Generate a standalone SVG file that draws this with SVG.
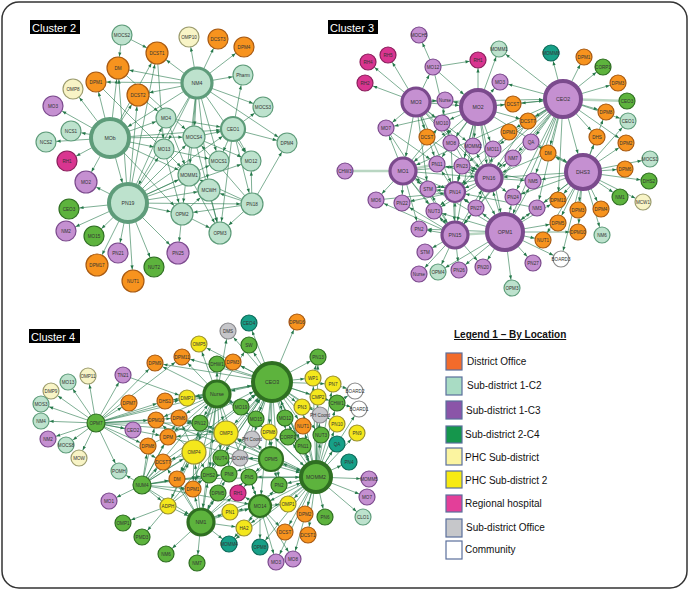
<svg xmlns="http://www.w3.org/2000/svg" width="689" height="598" viewBox="0 0 689 598">
<style>
text{font-family:"Liberation Sans",Arial,sans-serif;}
.nodes text{font-size:4.6px;text-anchor:middle;fill:#333;}
.nodes circle{stroke-width:1.2;}
.or circle{fill:#f7931e;stroke:#a85a12;}
.mi circle{fill:#bde2cd;stroke:#5e9c7a;}
.pu circle{fill:#c590d1;stroke:#7b4a8d;}
.gr circle{fill:#5db33d;stroke:#2f6f22;}
.py circle{fill:#f8f4c6;stroke:#9c9c6e;}
.ye circle{fill:#f4e71c;stroke:#9a9030;}
.mg circle{fill:#d93590;stroke:#8a1f5c;}
.te circle{fill:#17a088;stroke:#0c6a58;}
.gy circle{fill:#c6c6ca;stroke:#8a8a8e;}
.wh circle{fill:#ffffff;stroke:#8a8a8a;}
.nodes .b2 circle{stroke-width:2.2;}
.nodes .b3 circle{stroke-width:3.2;}
.nodes .b4 circle{stroke-width:4;}
.nodes .b3 text,.nodes .b4 text{font-size:5.2px;}
.edges line{stroke:#25784a;stroke-width:0.7;stroke-opacity:0.85;}
.edges line.thick{stroke:#b9d6c2;stroke-width:2.6;stroke-opacity:1;}
.e8{marker-end:url(#m8);} .e10{marker-end:url(#m10);} .e11{marker-end:url(#m11);}
.e12{marker-end:url(#m12);} .e13{marker-end:url(#m13);} .e14{marker-end:url(#m14);}
.e15{marker-end:url(#m15);} .e17{marker-end:url(#m17);} .e18{marker-end:url(#m18);}
.e19{marker-end:url(#m19);} .e9{marker-end:url(#m9);}
.clab rect{fill:#000;} .clab text{fill:#fff;font-size:11px;}
.legend text{font-size:10px;fill:#111;}
.legend rect{stroke:#5b6f9c;stroke-width:1.2;}
</style>
<defs>
<marker id="m8" markerUnits="userSpaceOnUse" markerWidth="4" markerHeight="4" refX="12.6" refY="1.6" orient="auto" overflow="visible"><path d="M0,0L4,1.6L0,3.2z" fill="#25784a"/></marker>
<marker id="m9" markerUnits="userSpaceOnUse" markerWidth="4" markerHeight="4" refX="13.6" refY="1.6" orient="auto" overflow="visible"><path d="M0,0L4,1.6L0,3.2z" fill="#25784a"/></marker>
<marker id="m10" markerUnits="userSpaceOnUse" markerWidth="4" markerHeight="4" refX="14.6" refY="1.6" orient="auto" overflow="visible"><path d="M0,0L4,1.6L0,3.2z" fill="#25784a"/></marker>
<marker id="m11" markerUnits="userSpaceOnUse" markerWidth="4" markerHeight="4" refX="15.6" refY="1.6" orient="auto" overflow="visible"><path d="M0,0L4,1.6L0,3.2z" fill="#25784a"/></marker>
<marker id="m12" markerUnits="userSpaceOnUse" markerWidth="4" markerHeight="4" refX="16.8" refY="1.6" orient="auto" overflow="visible"><path d="M0,0L4,1.6L0,3.2z" fill="#25784a"/></marker>
<marker id="m13" markerUnits="userSpaceOnUse" markerWidth="4" markerHeight="4" refX="18.4" refY="1.6" orient="auto" overflow="visible"><path d="M0,0L4,1.6L0,3.2z" fill="#25784a"/></marker>
<marker id="m14" markerUnits="userSpaceOnUse" markerWidth="4" markerHeight="4" refX="19.6" refY="1.6" orient="auto" overflow="visible"><path d="M0,0L4,1.6L0,3.2z" fill="#25784a"/></marker>
<marker id="m15" markerUnits="userSpaceOnUse" markerWidth="4" markerHeight="4" refX="20.6" refY="1.6" orient="auto" overflow="visible"><path d="M0,0L4,1.6L0,3.2z" fill="#25784a"/></marker>
<marker id="m17" markerUnits="userSpaceOnUse" markerWidth="4" markerHeight="4" refX="23" refY="1.6" orient="auto" overflow="visible"><path d="M0,0L4,1.6L0,3.2z" fill="#25784a"/></marker>
<marker id="m18" markerUnits="userSpaceOnUse" markerWidth="4" markerHeight="4" refX="24" refY="1.6" orient="auto" overflow="visible"><path d="M0,0L4,1.6L0,3.2z" fill="#25784a"/></marker>
<marker id="m19" markerUnits="userSpaceOnUse" markerWidth="4" markerHeight="4" refX="25" refY="1.6" orient="auto" overflow="visible"><path d="M0,0L4,1.6L0,3.2z" fill="#25784a"/></marker>
</defs>
<rect x="0" y="0" width="689" height="598" fill="#fff"/>
<rect x="2" y="2" width="685" height="586" rx="17" fill="none" stroke="#333" stroke-width="1.5"/>

<g class="clab" id="label-c2"><rect x="30" y="20" width="50" height="14"/><text x="32" y="31.5">Cluster 2</text></g>
<g class="clab" id="label-c3"><rect x="328" y="20" width="50" height="14"/><text x="330" y="31.5">Cluster 3</text></g>
<g class="clab" id="label-c4"><rect x="29" y="329" width="51" height="14"/><text x="31" y="340.5">Cluster 4</text></g>

<g id="connectors" class="edges">
<!-- cluster 2 -->
<line x1="122" y1="35" x2="157" y2="53" class="e11"/><line x1="122" y1="35" x2="118" y2="68" class="e11"/>
<line x1="197" y1="83" x2="118" y2="68" class="e11"/><line x1="197" y1="83" x2="96" y2="82" class="e10"/>
<line x1="197" y1="83" x2="157" y2="53" class="e11"/><line x1="197" y1="83" x2="189" y2="37" class="e10"/>
<line x1="197" y1="83" x2="218" y2="39" class="e10"/><line x1="197" y1="83" x2="244" y2="47" class="e10"/>
<line x1="197" y1="83" x2="243" y2="75" class="e10"/><line x1="197" y1="83" x2="263" y2="107" class="e10"/>
<line x1="197" y1="83" x2="138" y2="95" class="e11"/><line x1="197" y1="83" x2="110" y2="138" class="e19"/>
<line x1="197" y1="83" x2="194" y2="137" class="e11"/><line x1="197" y1="83" x2="219" y2="161" class="e10"/>
<line x1="197" y1="83" x2="251" y2="161" class="e10"/><line x1="197" y1="83" x2="189" y2="175" class="e11"/>
<line x1="197" y1="83" x2="209" y2="190" class="e11"/><line x1="197" y1="83" x2="182" y2="214" class="e11"/>
<line x1="197" y1="83" x2="128" y2="203" class="e19"/><line x1="197" y1="83" x2="287" y2="143" class="e10"/>
<line x1="197" y1="83" x2="164" y2="149" class="e10"/>
<line x1="110" y1="138" x2="71" y2="131" class="e10"/><line x1="110" y1="138" x2="46" y2="142" class="e10"/>
<line x1="110" y1="138" x2="53" y2="106" class="e10"/><line x1="110" y1="138" x2="73" y2="89" class="e10"/>
<line x1="110" y1="138" x2="96" y2="82" class="e10"/><line x1="110" y1="138" x2="118" y2="68" class="e11"/>
<line x1="110" y1="138" x2="138" y2="95" class="e11"/><line x1="110" y1="138" x2="157" y2="53" class="e11"/>
<line x1="110" y1="138" x2="67" y2="161" class="e10"/><line x1="110" y1="138" x2="86" y2="182" class="e11"/>
<line x1="110" y1="138" x2="128" y2="203" class="e19"/><line x1="110" y1="138" x2="166" y2="118" class="e10"/>
<line x1="110" y1="138" x2="194" y2="137" class="e11"/><line x1="110" y1="138" x2="164" y2="149" class="e10"/>
<line x1="110" y1="138" x2="233" y2="129" class="e12"/><line x1="110" y1="138" x2="189" y2="175" class="e11"/>
<line x1="110" y1="138" x2="182" y2="214" class="e11"/>
<line x1="128" y1="203" x2="69" y2="209" class="e10"/><line x1="128" y1="203" x2="66" y2="231" class="e10"/>
<line x1="128" y1="203" x2="94" y2="236" class="e10"/><line x1="128" y1="203" x2="97" y2="265" class="e11"/>
<line x1="128" y1="203" x2="118" y2="253" class="e10"/><line x1="128" y1="203" x2="133" y2="281" class="e11"/>
<line x1="128" y1="203" x2="154" y2="267" class="e10"/><line x1="128" y1="203" x2="178" y2="253" class="e11"/>
<line x1="128" y1="203" x2="86" y2="182" class="e11"/><line x1="128" y1="203" x2="182" y2="214" class="e11"/>
<line x1="128" y1="203" x2="252" y2="204" class="e11"/><line x1="128" y1="203" x2="189" y2="175" class="e11"/>
<line x1="128" y1="203" x2="209" y2="190" class="e11"/><line x1="128" y1="203" x2="219" y2="161" class="e10"/>
<line x1="128" y1="203" x2="251" y2="161" class="e10"/><line x1="128" y1="203" x2="233" y2="129" class="e12"/>
<line x1="128" y1="203" x2="166" y2="118" class="e10"/><line x1="128" y1="203" x2="164" y2="149" class="e10"/>
<line x1="128" y1="203" x2="194" y2="137" class="e11"/><line x1="128" y1="203" x2="138" y2="95" class="e11"/>
<line x1="128" y1="203" x2="157" y2="53" class="e11"/><line x1="128" y1="203" x2="118" y2="68" class="e11"/>
<line x1="233" y1="129" x2="243" y2="75" class="e10"/><line x1="233" y1="129" x2="263" y2="107" class="e10"/>
<line x1="233" y1="129" x2="287" y2="143" class="e10"/><line x1="233" y1="129" x2="251" y2="161" class="e10"/>
<line x1="233" y1="129" x2="219" y2="161" class="e10"/><line x1="233" y1="129" x2="252" y2="204" class="e11"/>
<line x1="233" y1="129" x2="220" y2="233" class="e11"/>
<line x1="252" y1="204" x2="251" y2="161" class="e10"/><line x1="252" y1="204" x2="287" y2="143" class="e10"/>
<line x1="252" y1="204" x2="220" y2="233" class="e11"/><line x1="252" y1="204" x2="209" y2="190" class="e11"/>
<line x1="252" y1="204" x2="182" y2="214" class="e11"/><line x1="252" y1="204" x2="189" y2="175" class="e11"/>
<line x1="252" y1="204" x2="194" y2="137" class="e11"/>
<line x1="182" y1="214" x2="178" y2="253" class="e11"/><line x1="182" y1="214" x2="220" y2="233" class="e11"/>
<line x1="182" y1="214" x2="209" y2="190" class="e11"/><line x1="194" y1="137" x2="233" y2="129" class="e12"/>
<line x1="194" y1="137" x2="251" y2="161" class="e10"/><line x1="166" y1="118" x2="233" y2="129" class="e12"/>
<line x1="164" y1="149" x2="219" y2="161" class="e10"/><line x1="189" y1="175" x2="220" y2="233" class="e11"/>
<line x1="138" y1="95" x2="166" y2="118" class="e10"/><line x1="194" y1="137" x2="220" y2="233" class="e11"/>
<line x1="166" y1="118" x2="189" y2="175" class="e11"/><line x1="209" y1="190" x2="220" y2="233" class="e11"/>
<line x1="164" y1="149" x2="182" y2="214" class="e11"/><line x1="157" y1="53" x2="164" y2="149" class="e10"/>
<line x1="118" y1="68" x2="194" y2="137" class="e11"/><line x1="96" y1="82" x2="189" y2="175" class="e11"/>
<!-- cluster 3 -->
<line x1="403" y1="171" x2="345" y2="171" class="thick"/><line x1="403" y1="171" x2="437" y2="164" class="thick"/>
<line x1="455" y1="235" x2="505" y2="232" class="thick"/><line x1="563" y1="99" x2="627" y2="101" class="thick"/>
<line x1="416" y1="102" x2="368" y2="62" class="e8"/><line x1="416" y1="102" x2="388" y2="55" class="e8"/>
<line x1="416" y1="102" x2="365" y2="83" class="e8"/><line x1="416" y1="102" x2="386" y2="128" class="e8"/>
<line x1="416" y1="102" x2="433" y2="67" class="e8"/><line x1="416" y1="102" x2="445" y2="100" class="e8"/>
<line x1="416" y1="102" x2="442" y2="123" class="e8"/><line x1="416" y1="102" x2="427" y2="137" class="e8"/>
<line x1="416" y1="102" x2="403" y2="171" class="e13"/><line x1="416" y1="102" x2="478" y2="107" class="e17"/>
<line x1="416" y1="102" x2="451" y2="143" class="e8"/><line x1="416" y1="102" x2="437" y2="164" class="e8"/>
<line x1="416" y1="102" x2="455" y2="192" class="e10"/><line x1="416" y1="102" x2="489" y2="178" class="e13"/>
<line x1="416" y1="102" x2="563" y2="99" class="e18"/><line x1="416" y1="102" x2="473" y2="146" class="e8"/>
<line x1="416" y1="102" x2="428" y2="189" class="e8"/>
<line x1="433" y1="67" x2="419" y2="35" class="e8"/><line x1="433" y1="67" x2="478" y2="60" class="e8"/>
<line x1="433" y1="67" x2="478" y2="107" class="e17"/><line x1="433" y1="67" x2="451" y2="143" class="e8"/>
<line x1="478" y1="107" x2="478" y2="60" class="e8"/><line x1="478" y1="107" x2="499" y2="49" class="e8"/>
<line x1="478" y1="107" x2="500" y2="82" class="e8"/><line x1="478" y1="107" x2="513" y2="104" class="e8"/>
<line x1="478" y1="107" x2="445" y2="100" class="e8"/><line x1="478" y1="107" x2="442" y2="123" class="e8"/>
<line x1="478" y1="107" x2="451" y2="143" class="e8"/><line x1="478" y1="107" x2="473" y2="146" class="e8"/>
<line x1="478" y1="107" x2="493" y2="149" class="e8"/><line x1="478" y1="107" x2="489" y2="178" class="e13"/>
<line x1="478" y1="107" x2="455" y2="192" class="e10"/><line x1="478" y1="107" x2="462" y2="166" class="e8"/>
<line x1="478" y1="107" x2="505" y2="232" class="e18"/><line x1="478" y1="107" x2="563" y2="99" class="e18"/>
<line x1="478" y1="107" x2="583" y2="172" class="e17"/><line x1="478" y1="107" x2="403" y2="171" class="e13"/>
<line x1="478" y1="107" x2="455" y2="235" class="e13"/><line x1="478" y1="107" x2="386" y2="128" class="e8"/>
<line x1="478" y1="107" x2="528" y2="121" class="e8"/><line x1="478" y1="107" x2="437" y2="164" class="e8"/>
<line x1="563" y1="99" x2="551" y2="53" class="e8"/><line x1="563" y1="99" x2="584" y2="57" class="e8"/>
<line x1="563" y1="99" x2="603" y2="67" class="e8"/><line x1="563" y1="99" x2="618" y2="83" class="e8"/>
<line x1="563" y1="99" x2="606" y2="112" class="e8"/><line x1="563" y1="99" x2="628" y2="121" class="e8"/>
<line x1="563" y1="99" x2="597" y2="137" class="e8"/><line x1="563" y1="99" x2="626" y2="143" class="e8"/>
<line x1="563" y1="99" x2="500" y2="82" class="e8"/><line x1="563" y1="99" x2="513" y2="104" class="e8"/>
<line x1="563" y1="99" x2="528" y2="121" class="e8"/><line x1="563" y1="99" x2="509" y2="132" class="e8"/>
<line x1="563" y1="99" x2="531" y2="142" class="e8"/><line x1="563" y1="99" x2="548" y2="153" class="e8"/>
<line x1="563" y1="99" x2="583" y2="172" class="e17"/><line x1="563" y1="99" x2="505" y2="232" class="e18"/>
<line x1="563" y1="99" x2="489" y2="178" class="e13"/><line x1="563" y1="99" x2="499" y2="49" class="e8"/>
<line x1="563" y1="99" x2="493" y2="149" class="e8"/><line x1="563" y1="99" x2="513" y2="158" class="e8"/>
<line x1="563" y1="99" x2="533" y2="181" class="e8"/><line x1="563" y1="99" x2="455" y2="192" class="e10"/>
<line x1="563" y1="99" x2="455" y2="235" class="e13"/><line x1="563" y1="99" x2="558" y2="200" class="e8"/>
<line x1="563" y1="99" x2="537" y2="208" class="e8"/><line x1="563" y1="99" x2="403" y2="171" class="e13"/>
<line x1="563" y1="99" x2="462" y2="166" class="e8"/><line x1="563" y1="99" x2="513" y2="197" class="e8"/>
<line x1="583" y1="172" x2="650" y2="159" class="e8"/><line x1="583" y1="172" x2="625" y2="169" class="e8"/>
<line x1="583" y1="172" x2="649" y2="181" class="e8"/><line x1="583" y1="172" x2="620" y2="197" class="e8"/>
<line x1="583" y1="172" x2="643" y2="202" class="e8"/><line x1="583" y1="172" x2="601" y2="209" class="e8"/>
<line x1="583" y1="172" x2="578" y2="210" class="e8"/><line x1="583" y1="172" x2="558" y2="200" class="e8"/>
<line x1="583" y1="172" x2="548" y2="153" class="e8"/><line x1="583" y1="172" x2="533" y2="181" class="e8"/>
<line x1="583" y1="172" x2="558" y2="223" class="e8"/><line x1="583" y1="172" x2="578" y2="232" class="e8"/>
<line x1="583" y1="172" x2="602" y2="235" class="e8"/><line x1="583" y1="172" x2="597" y2="137" class="e8"/>
<line x1="583" y1="172" x2="626" y2="143" class="e8"/><line x1="583" y1="172" x2="505" y2="232" class="e18"/>
<line x1="583" y1="172" x2="489" y2="178" class="e13"/><line x1="583" y1="172" x2="513" y2="197" class="e8"/>
<line x1="583" y1="172" x2="537" y2="208" class="e8"/><line x1="583" y1="172" x2="543" y2="240" class="e8"/>
<line x1="583" y1="172" x2="531" y2="142" class="e8"/><line x1="583" y1="172" x2="606" y2="112" class="e8"/>
<line x1="583" y1="172" x2="628" y2="121" class="e8"/><line x1="583" y1="172" x2="561" y2="259" class="e8"/>
<line x1="505" y1="232" x2="543" y2="240" class="e8"/><line x1="505" y1="232" x2="561" y2="259" class="e8"/>
<line x1="505" y1="232" x2="533" y2="263" class="e8"/><line x1="505" y1="232" x2="512" y2="288" class="e8"/>
<line x1="505" y1="232" x2="483" y2="267" class="e8"/><line x1="505" y1="232" x2="459" y2="270" class="e8"/>
<line x1="505" y1="232" x2="558" y2="223" class="e8"/><line x1="505" y1="232" x2="578" y2="232" class="e8"/>
<line x1="505" y1="232" x2="537" y2="208" class="e8"/><line x1="505" y1="232" x2="513" y2="197" class="e8"/>
<line x1="505" y1="232" x2="489" y2="178" class="e13"/><line x1="505" y1="232" x2="455" y2="192" class="e10"/>
<line x1="505" y1="232" x2="476" y2="208" class="e8"/><line x1="505" y1="232" x2="533" y2="181" class="e8"/>
<line x1="505" y1="232" x2="558" y2="200" class="e8"/><line x1="505" y1="232" x2="403" y2="171" class="e13"/>
<line x1="505" y1="232" x2="434" y2="211" class="e8"/><line x1="505" y1="232" x2="419" y2="229" class="e8"/>
<line x1="505" y1="232" x2="438" y2="272" class="e8"/>
<line x1="403" y1="171" x2="376" y2="200" class="e8"/><line x1="403" y1="171" x2="402" y2="203" class="e8"/>
<line x1="403" y1="171" x2="428" y2="189" class="e8"/><line x1="403" y1="171" x2="455" y2="192" class="e10"/>
<line x1="403" y1="171" x2="434" y2="211" class="e8"/><line x1="403" y1="171" x2="419" y2="229" class="e8"/>
<line x1="403" y1="171" x2="455" y2="235" class="e13"/><line x1="403" y1="171" x2="489" y2="178" class="e13"/>
<line x1="403" y1="171" x2="386" y2="128" class="e8"/><line x1="403" y1="171" x2="462" y2="166" class="e8"/>
<line x1="403" y1="171" x2="442" y2="123" class="e8"/>
<line x1="455" y1="235" x2="419" y2="229" class="e8"/><line x1="455" y1="235" x2="425" y2="252" class="e8"/>
<line x1="455" y1="235" x2="419" y2="274" class="e8"/><line x1="455" y1="235" x2="438" y2="272" class="e8"/>
<line x1="455" y1="235" x2="459" y2="270" class="e8"/><line x1="455" y1="235" x2="483" y2="267" class="e8"/>
<line x1="455" y1="235" x2="434" y2="211" class="e8"/><line x1="455" y1="235" x2="402" y2="203" class="e8"/>
<line x1="455" y1="235" x2="455" y2="192" class="e10"/><line x1="455" y1="235" x2="476" y2="208" class="e8"/>
<line x1="455" y1="235" x2="489" y2="178" class="e13"/><line x1="455" y1="235" x2="428" y2="189" class="e8"/>
<line x1="455" y1="235" x2="376" y2="200" class="e8"/>
<line x1="489" y1="178" x2="462" y2="166" class="e8"/><line x1="489" y1="178" x2="437" y2="164" class="e8"/>
<line x1="489" y1="178" x2="455" y2="192" class="e10"/><line x1="489" y1="178" x2="476" y2="208" class="e8"/>
<line x1="489" y1="178" x2="513" y2="158" class="e8"/><line x1="489" y1="178" x2="513" y2="197" class="e8"/>
<line x1="489" y1="178" x2="533" y2="181" class="e8"/><line x1="489" y1="178" x2="493" y2="149" class="e8"/>
<line x1="489" y1="178" x2="473" y2="146" class="e8"/><line x1="489" y1="178" x2="428" y2="189" class="e8"/>
<line x1="489" y1="178" x2="434" y2="211" class="e8"/><line x1="489" y1="178" x2="442" y2="123" class="e8"/>
<line x1="455" y1="192" x2="428" y2="189" class="e8"/><line x1="455" y1="192" x2="434" y2="211" class="e8"/>
<line x1="455" y1="192" x2="462" y2="166" class="e8"/><line x1="455" y1="192" x2="437" y2="164" class="e8"/>
<line x1="455" y1="192" x2="402" y2="203" class="e8"/><line x1="455" y1="192" x2="476" y2="208" class="e8"/>
<line x1="376" y1="200" x2="455" y2="192" class="e10"/><line x1="445" y1="100" x2="442" y2="123" class="e8"/>
<line x1="386" y1="128" x2="437" y2="164" class="e8"/><line x1="386" y1="128" x2="455" y2="235" class="e13"/>
<line x1="537" y1="208" x2="455" y2="192" class="e10"/><line x1="533" y1="181" x2="462" y2="166" class="e8"/>
<line x1="548" y1="153" x2="489" y2="178" class="e13"/>
<line x1="442" y1="123" x2="505" y2="232" class="e18"/><line x1="427" y1="137" x2="489" y2="178" class="e13"/>
<line x1="451" y1="143" x2="455" y2="235" class="e13"/><line x1="509" y1="132" x2="455" y2="192" class="e10"/>
<line x1="531" y1="142" x2="455" y2="235" class="e13"/><line x1="528" y1="121" x2="489" y2="178" class="e13"/>
<!-- cluster 4 -->
<line x1="272" y1="382" x2="249" y2="323" class="e8"/><line x1="272" y1="382" x2="297" y2="322" class="e8"/>
<line x1="272" y1="382" x2="228" y2="331" class="e8"/><line x1="272" y1="382" x2="249" y2="345" class="e8"/>
<line x1="272" y1="382" x2="199" y2="344" class="e8"/><line x1="272" y1="382" x2="233" y2="362" class="e8"/>
<line x1="272" y1="382" x2="217" y2="364" class="e8"/><line x1="272" y1="382" x2="182" y2="357" class="e8"/>
<line x1="272" y1="382" x2="217" y2="394" class="e13"/><line x1="272" y1="382" x2="318" y2="357" class="e8"/>
<line x1="272" y1="382" x2="313" y2="378" class="e8"/><line x1="272" y1="382" x2="333" y2="384" class="e8"/>
<line x1="272" y1="382" x2="318" y2="397" class="e8"/><line x1="272" y1="382" x2="302" y2="407" class="e8"/>
<line x1="272" y1="382" x2="241" y2="407" class="e8"/><line x1="272" y1="382" x2="256" y2="419" class="e8"/>
<line x1="272" y1="382" x2="285" y2="418" class="e8"/><line x1="272" y1="382" x2="269" y2="432" class="e8"/>
<line x1="272" y1="382" x2="252" y2="439" class="e8"/><line x1="272" y1="382" x2="288" y2="437" class="e8"/>
<line x1="272" y1="382" x2="226" y2="433" class="e12"/><line x1="272" y1="382" x2="316" y2="477" class="e15"/>
<line x1="272" y1="382" x2="271" y2="459" class="e12"/><line x1="272" y1="382" x2="260" y2="506" class="e11"/>
<line x1="272" y1="382" x2="303" y2="426" class="e8"/><line x1="272" y1="382" x2="337" y2="424" class="e8"/>
<line x1="272" y1="382" x2="303" y2="446" class="e8"/><line x1="272" y1="382" x2="321" y2="435" class="e8"/>
<line x1="272" y1="382" x2="279" y2="485" class="e8"/><line x1="272" y1="382" x2="201" y2="522" class="e13"/>
<line x1="272" y1="382" x2="240" y2="458" class="e8"/><line x1="272" y1="382" x2="155" y2="363" class="e8"/>
<line x1="272" y1="382" x2="187" y2="398" class="e8"/><line x1="272" y1="382" x2="337" y2="403" class="e8"/>
<line x1="272" y1="382" x2="320" y2="415" class="e8"/><line x1="272" y1="382" x2="221" y2="458" class="e8"/>
<line x1="217" y1="394" x2="199" y2="344" class="e8"/><line x1="217" y1="394" x2="182" y2="357" class="e8"/>
<line x1="217" y1="394" x2="217" y2="364" class="e8"/><line x1="217" y1="394" x2="187" y2="398" class="e8"/>
<line x1="217" y1="394" x2="165" y2="401" class="e8"/><line x1="217" y1="394" x2="155" y2="363" class="e8"/>
<line x1="217" y1="394" x2="179" y2="418" class="e8"/><line x1="217" y1="394" x2="200" y2="423" class="e8"/>
<line x1="217" y1="394" x2="241" y2="407" class="e8"/><line x1="217" y1="394" x2="226" y2="433" class="e12"/>
<line x1="217" y1="394" x2="256" y2="419" class="e8"/><line x1="217" y1="394" x2="156" y2="420" class="e8"/>
<line x1="217" y1="394" x2="168" y2="437" class="e8"/><line x1="217" y1="394" x2="194" y2="452" class="e12"/>
<line x1="217" y1="394" x2="221" y2="458" class="e8"/><line x1="217" y1="394" x2="209" y2="475" class="e8"/>
<line x1="217" y1="394" x2="177" y2="479" class="e8"/><line x1="217" y1="394" x2="168" y2="506" class="e8"/>
<line x1="217" y1="394" x2="201" y2="522" class="e13"/><line x1="217" y1="394" x2="260" y2="506" class="e11"/>
<line x1="217" y1="394" x2="193" y2="489" class="e8"/><line x1="217" y1="394" x2="228" y2="331" class="e8"/>
<line x1="217" y1="394" x2="249" y2="345" class="e8"/><line x1="217" y1="394" x2="269" y2="432" class="e8"/>
<line x1="96" y1="423" x2="68" y2="382" class="e8"/><line x1="96" y1="423" x2="88" y2="376" class="e8"/>
<line x1="96" y1="423" x2="51" y2="391" class="e8"/><line x1="96" y1="423" x2="41" y2="404" class="e8"/>
<line x1="96" y1="423" x2="41" y2="421" class="e8"/><line x1="96" y1="423" x2="48" y2="439" class="e8"/>
<line x1="96" y1="423" x2="66" y2="445" class="e8"/><line x1="96" y1="423" x2="79" y2="458" class="e8"/>
<line x1="96" y1="423" x2="123" y2="375" class="e8"/><line x1="96" y1="423" x2="155" y2="363" class="e8"/>
<line x1="96" y1="423" x2="129" y2="403" class="e8"/><line x1="96" y1="423" x2="133" y2="430" class="e8"/>
<line x1="96" y1="423" x2="165" y2="401" class="e8"/><line x1="96" y1="423" x2="156" y2="420" class="e8"/>
<line x1="96" y1="423" x2="179" y2="418" class="e8"/><line x1="96" y1="423" x2="168" y2="437" class="e8"/>
<line x1="96" y1="423" x2="148" y2="446" class="e8"/><line x1="96" y1="423" x2="187" y2="398" class="e8"/>
<line x1="96" y1="423" x2="226" y2="433" class="e12"/><line x1="96" y1="423" x2="217" y2="394" class="e13"/>
<line x1="96" y1="423" x2="200" y2="423" class="e8"/><line x1="96" y1="423" x2="119" y2="471" class="e8"/>
<line x1="96" y1="423" x2="182" y2="357" class="e8"/><line x1="96" y1="423" x2="163" y2="462" class="e8"/>
<line x1="142" y1="485" x2="119" y2="471" class="e8"/><line x1="142" y1="485" x2="109" y2="501" class="e8"/>
<line x1="142" y1="485" x2="163" y2="462" class="e8"/><line x1="142" y1="485" x2="177" y2="479" class="e8"/>
<line x1="142" y1="485" x2="193" y2="489" class="e8"/><line x1="142" y1="485" x2="168" y2="506" class="e8"/>
<line x1="142" y1="485" x2="194" y2="452" class="e12"/><line x1="142" y1="485" x2="148" y2="446" class="e8"/>
<line x1="142" y1="485" x2="168" y2="437" class="e8"/><line x1="142" y1="485" x2="209" y2="475" class="e8"/>
<line x1="142" y1="485" x2="260" y2="506" class="e11"/><line x1="142" y1="485" x2="201" y2="522" class="e13"/>
<line x1="142" y1="485" x2="226" y2="433" class="e12"/><line x1="142" y1="485" x2="229" y2="474" class="e8"/>
<line x1="142" y1="485" x2="272" y2="382" class="e19"/><line x1="142" y1="485" x2="217" y2="394" class="e13"/>
<line x1="142" y1="485" x2="156" y2="420" class="e8"/><line x1="142" y1="485" x2="179" y2="418" class="e8"/>
<line x1="168" y1="506" x2="123" y2="523" class="e8"/><line x1="168" y1="506" x2="142" y2="537" class="e8"/>
<line x1="168" y1="506" x2="201" y2="522" class="e13"/><line x1="168" y1="506" x2="209" y2="475" class="e8"/>
<line x1="168" y1="506" x2="194" y2="452" class="e12"/><line x1="168" y1="506" x2="272" y2="382" class="e19"/>
<line x1="201" y1="522" x2="166" y2="554" class="e8"/><line x1="201" y1="522" x2="197" y2="563" class="e8"/>
<line x1="201" y1="522" x2="229" y2="544" class="e8"/><line x1="201" y1="522" x2="193" y2="489" class="e8"/>
<line x1="201" y1="522" x2="177" y2="479" class="e8"/><line x1="201" y1="522" x2="163" y2="462" class="e8"/>
<line x1="201" y1="522" x2="194" y2="452" class="e12"/><line x1="201" y1="522" x2="209" y2="475" class="e8"/>
<line x1="201" y1="522" x2="218" y2="493" class="e8"/><line x1="201" y1="522" x2="230" y2="512" class="e8"/>
<line x1="201" y1="522" x2="244" y2="528" class="e8"/><line x1="201" y1="522" x2="260" y2="506" class="e11"/>
<line x1="201" y1="522" x2="238" y2="493" class="e8"/><line x1="201" y1="522" x2="229" y2="474" class="e8"/>
<line x1="201" y1="522" x2="249" y2="477" class="e8"/><line x1="201" y1="522" x2="316" y2="477" class="e15"/>
<line x1="316" y1="477" x2="369" y2="479" class="e8"/><line x1="316" y1="477" x2="367" y2="497" class="e8"/>
<line x1="316" y1="477" x2="363" y2="517" class="e8"/><line x1="316" y1="477" x2="325" y2="517" class="e8"/>
<line x1="316" y1="477" x2="349" y2="462" class="e8"/><line x1="316" y1="477" x2="337" y2="444" class="e8"/>
<line x1="316" y1="477" x2="357" y2="433" class="e8"/><line x1="316" y1="477" x2="337" y2="424" class="e8"/>
<line x1="316" y1="477" x2="321" y2="435" class="e8"/><line x1="316" y1="477" x2="303" y2="446" class="e8"/>
<line x1="316" y1="477" x2="303" y2="426" class="e8"/><line x1="316" y1="477" x2="337" y2="403" class="e8"/>
<line x1="316" y1="477" x2="359" y2="409" class="e8"/><line x1="316" y1="477" x2="305" y2="514" class="e8"/>
<line x1="316" y1="477" x2="308" y2="535" class="e8"/><line x1="316" y1="477" x2="285" y2="532" class="e8"/>
<line x1="316" y1="477" x2="288" y2="504" class="e8"/><line x1="316" y1="477" x2="279" y2="485" class="e8"/>
<line x1="316" y1="477" x2="260" y2="506" class="e11"/><line x1="316" y1="477" x2="271" y2="459" class="e12"/>
<line x1="316" y1="477" x2="244" y2="528" class="e8"/><line x1="316" y1="477" x2="260" y2="547" class="e8"/>
<line x1="316" y1="477" x2="229" y2="544" class="e8"/><line x1="316" y1="477" x2="293" y2="559" class="e8"/>
<line x1="316" y1="477" x2="276" y2="562" class="e8"/><line x1="316" y1="477" x2="272" y2="382" class="e19"/>
<line x1="316" y1="477" x2="288" y2="437" class="e8"/><line x1="316" y1="477" x2="285" y2="418" class="e8"/>
<line x1="316" y1="477" x2="320" y2="415" class="e8"/><line x1="316" y1="477" x2="302" y2="407" class="e8"/>
<line x1="316" y1="477" x2="318" y2="397" class="e8"/><line x1="316" y1="477" x2="313" y2="378" class="e8"/>
<line x1="316" y1="477" x2="333" y2="384" class="e8"/><line x1="316" y1="477" x2="318" y2="357" class="e8"/>
<line x1="316" y1="477" x2="269" y2="432" class="e8"/><line x1="316" y1="477" x2="249" y2="477" class="e8"/>
<line x1="316" y1="477" x2="226" y2="433" class="e12"/>
<line x1="260" y1="506" x2="276" y2="562" class="e8"/><line x1="260" y1="506" x2="293" y2="559" class="e8"/>
<line x1="260" y1="506" x2="260" y2="547" class="e8"/><line x1="260" y1="506" x2="244" y2="528" class="e8"/>
<line x1="260" y1="506" x2="230" y2="512" class="e8"/><line x1="260" y1="506" x2="238" y2="493" class="e8"/>
<line x1="260" y1="506" x2="249" y2="477" class="e8"/><line x1="260" y1="506" x2="279" y2="485" class="e8"/>
<line x1="260" y1="506" x2="288" y2="504" class="e8"/><line x1="260" y1="506" x2="285" y2="532" class="e8"/>
<line x1="260" y1="506" x2="229" y2="544" class="e8"/>
<line x1="271" y1="459" x2="249" y2="477" class="e8"/><line x1="271" y1="459" x2="229" y2="474" class="e8"/>
<line x1="271" y1="459" x2="279" y2="485" class="e8"/><line x1="271" y1="459" x2="221" y2="458" class="e8"/>
<line x1="271" y1="459" x2="240" y2="458" class="e8"/><line x1="271" y1="459" x2="238" y2="493" class="e8"/>
<line x1="271" y1="459" x2="226" y2="433" class="e12"/><line x1="271" y1="459" x2="252" y2="439" class="e8"/>
<line x1="271" y1="459" x2="269" y2="432" class="e8"/>
<line x1="337" y1="403" x2="355" y2="391" class="e8"/><line x1="337" y1="403" x2="359" y2="409" class="e8"/>
<line x1="333" y1="384" x2="355" y2="391" class="e8"/><line x1="313" y1="378" x2="318" y2="357" class="e8"/>
<line x1="194" y1="452" x2="163" y2="462" class="e8"/><line x1="194" y1="452" x2="177" y2="479" class="e8"/>
<line x1="194" y1="452" x2="193" y2="489" class="e8"/><line x1="194" y1="452" x2="209" y2="475" class="e8"/>
<line x1="194" y1="452" x2="156" y2="420" class="e8"/><line x1="194" y1="452" x2="179" y2="418" class="e8"/>
<line x1="194" y1="452" x2="200" y2="423" class="e8"/>
<line x1="226" y1="433" x2="179" y2="418" class="e8"/><line x1="226" y1="433" x2="200" y2="423" class="e8"/>
<line x1="226" y1="433" x2="168" y2="437" class="e8"/><line x1="226" y1="433" x2="209" y2="475" class="e8"/>
<line x1="226" y1="433" x2="229" y2="474" class="e8"/>
<line x1="123" y1="375" x2="187" y2="398" class="e8"/><line x1="148" y1="446" x2="272" y2="382" class="e19"/>
<line x1="165" y1="401" x2="272" y2="382" class="e19"/><line x1="156" y1="420" x2="316" y2="477" class="e15"/>
<line x1="168" y1="437" x2="316" y2="477" class="e15"/>
<line x1="163" y1="462" x2="272" y2="382" class="e19"/><line x1="177" y1="479" x2="316" y2="477" class="e15"/>
<line x1="193" y1="489" x2="272" y2="382" class="e19"/><line x1="179" y1="418" x2="316" y2="477" class="e15"/>
<line x1="209" y1="475" x2="272" y2="382" class="e19"/><line x1="241" y1="407" x2="316" y2="477" class="e15"/>
</g>

<g class="nodes">
<!-- cluster 2 -->
<g id="c2-MOCS2" class="mi"><circle cx="122" cy="35" r="10"/><text x="122" y="36.6">MOCS2</text></g>
<g id="c2-OMP10" class="py"><circle cx="189" cy="37" r="10"/><text x="189" y="38.6">OMP10</text></g>
<g id="c2-DCST3" class="or"><circle cx="218" cy="39" r="10"/><text x="218" y="40.6">DCST3</text></g>
<g id="c2-DPM4" class="or"><circle cx="244" cy="47" r="10"/><text x="244" y="48.6">DPM4</text></g>
<g id="c2-DCST1" class="or"><circle cx="157" cy="53" r="11"/><text x="157" y="54.6">DCST1</text></g>
<g id="c2-DM" class="or"><circle cx="118" cy="68" r="11"/><text x="118" y="69.6">DM</text></g>
<g id="c2-Pharm" class="mi"><circle cx="243" cy="75" r="10"/><text x="243" y="76.6">Pharm</text></g>
<g id="c2-DPM1" class="or"><circle cx="96" cy="82" r="10"/><text x="96" y="83.6">DPM1</text></g>
<g id="c2-OMP8" class="py"><circle cx="73" cy="89" r="10"/><text x="73" y="90.6">OMP8</text></g>
<g id="c2-NM4" class="mi b3"><circle cx="197" cy="83" r="15"/><text x="197" y="84.8">NM4</text></g>
<g id="c2-DCST2" class="or"><circle cx="138" cy="95" r="11"/><text x="138" y="96.6">DCST2</text></g>
<g id="c2-MOCS3" class="mi"><circle cx="263" cy="107" r="10"/><text x="263" y="108.6">MOCS3</text></g>
<g id="c2-MO3" class="pu"><circle cx="53" cy="106" r="10"/><text x="53" y="107.6">MO3</text></g>
<g id="c2-MO4" class="mi"><circle cx="166" cy="118" r="10"/><text x="166" y="119.6">MO4</text></g>
<g id="c2-CEO1" class="mi b2"><circle cx="233" cy="129" r="12"/><text x="233" y="130.6">CEO1</text></g>
<g id="c2-NCS1" class="mi"><circle cx="71" cy="131" r="10"/><text x="71" y="132.6">NCS1</text></g>
<g id="c2-MOb" class="mi b4"><circle cx="110" cy="138" r="19"/><text x="110" y="139.8">MOb</text></g>
<g id="c2-MOCS4" class="mi"><circle cx="194" cy="137" r="11"/><text x="194" y="138.6">MOCS4</text></g>
<g id="c2-NCS2" class="mi"><circle cx="46" cy="142" r="10"/><text x="46" y="143.6">NCS2</text></g>
<g id="c2-DPM4b" class="mi"><circle cx="287" cy="143" r="10"/><text x="287" y="144.6">DPM4</text></g>
<g id="c2-MO13" class="mi"><circle cx="164" cy="149" r="10"/><text x="164" y="150.6">MO13</text></g>
<g id="c2-RH1" class="mg"><circle cx="67" cy="161" r="10"/><text x="67" y="162.6">RH1</text></g>
<g id="c2-MOCS1" class="mi"><circle cx="219" cy="161" r="10"/><text x="219" y="162.6">MOCS1</text></g>
<g id="c2-MO12" class="mi"><circle cx="251" cy="161" r="10"/><text x="251" y="162.6">MO12</text></g>
<g id="c2-MOMM1" class="mi"><circle cx="189" cy="175" r="11"/><text x="189" y="176.6">MOMM1</text></g>
<g id="c2-MO2" class="pu"><circle cx="86" cy="182" r="11"/><text x="86" y="183.6">MO2</text></g>
<g id="c2-MCWH" class="mi"><circle cx="209" cy="190" r="11"/><text x="209" y="191.6">MCWH</text></g>
<g id="c2-PN19" class="mi b4"><circle cx="128" cy="203" r="19"/><text x="128" y="204.8">PN19</text></g>
<g id="c2-PN18" class="mi"><circle cx="252" cy="204" r="11"/><text x="252" y="205.6">PN18</text></g>
<g id="c2-CEO3" class="gr"><circle cx="69" cy="209" r="10"/><text x="69" y="210.6">CEO3</text></g>
<g id="c2-OPM2" class="mi"><circle cx="182" cy="214" r="11"/><text x="182" y="215.6">OPM2</text></g>
<g id="c2-NM2" class="pu"><circle cx="66" cy="231" r="10"/><text x="66" y="232.6">NM2</text></g>
<g id="c2-OPM3" class="mi"><circle cx="220" cy="233" r="11"/><text x="220" y="234.6">OPM3</text></g>
<g id="c2-MO15" class="gr"><circle cx="94" cy="236" r="10"/><text x="94" y="237.6">MO15</text></g>
<g id="c2-PN21" class="pu"><circle cx="118" cy="253" r="10"/><text x="118" y="254.6">PN21</text></g>
<g id="c2-PN25" class="pu"><circle cx="178" cy="253" r="11"/><text x="178" y="254.6">PN25</text></g>
<g id="c2-DPM17" class="or"><circle cx="97" cy="265" r="11"/><text x="97" y="266.6">DPM17</text></g>
<g id="c2-NUT2" class="gr"><circle cx="154" cy="267" r="10"/><text x="154" y="268.6">NUT2</text></g>
<g id="c2-NUT1" class="or"><circle cx="133" cy="281" r="11"/><text x="133" y="282.6">NUT1</text></g>
<!-- cluster 3 -->
<g id="c3-MOCH5" class="pu"><circle cx="419" cy="35" r="8"/><text x="419" y="36.6">MOCH5</text></g>
<g id="c3-RH5" class="mg"><circle cx="388" cy="55" r="8"/><text x="388" y="56.6">RH5</text></g>
<g id="c3-RH4" class="mg"><circle cx="368" cy="62" r="8"/><text x="368" y="63.6">RH4</text></g>
<g id="c3-RH1" class="mg"><circle cx="478" cy="60" r="8"/><text x="478" y="61.6">RH1</text></g>
<g id="c3-MO12" class="pu"><circle cx="433" cy="67" r="8"/><text x="433" y="68.6">MO12</text></g>
<g id="c3-RH2" class="mg"><circle cx="365" cy="83" r="8"/><text x="365" y="84.6">RH2</text></g>
<g id="c3-MO3" class="pu b3"><circle cx="416" cy="102" r="14"/><text x="416" y="103.8">MO3</text></g>
<g id="c3-Nurse" class="pu"><circle cx="445" cy="100" r="8"/><text x="445" y="101.6">Nurse</text></g>
<g id="c3-MO2" class="pu b4"><circle cx="478" cy="107" r="17"/><text x="478" y="108.8">MO2</text></g>
<g id="c3-MO7" class="pu"><circle cx="386" cy="128" r="8"/><text x="386" y="129.6">MO7</text></g>
<g id="c3-MO10" class="pu"><circle cx="442" cy="123" r="8"/><text x="442" y="124.6">MO10</text></g>
<g id="c3-DCST" class="or"><circle cx="427" cy="137" r="8"/><text x="427" y="138.6">DCST</text></g>
<g id="c3-MO8" class="pu"><circle cx="451" cy="143" r="8"/><text x="451" y="144.6">MO8</text></g>
<g id="c3-MOMM2" class="pu"><circle cx="473" cy="146" r="8"/><text x="473" y="147.6">MOMM2</text></g>
<g id="c3-MO11" class="pu"><circle cx="493" cy="149" r="8"/><text x="493" y="150.6">MO11</text></g>
<g id="c3-MOMM1" class="mi"><circle cx="499" cy="49" r="8"/><text x="499" y="50.6">MOMM1</text></g>
<g id="c3-MOMM8" class="te"><circle cx="551" cy="53" r="8"/><text x="551" y="54.6">MOMM8</text></g>
<g id="c3-DPM1" class="or"><circle cx="584" cy="57" r="8"/><text x="584" y="58.6">DPM1</text></g>
<g id="c3-CORP1" class="gr"><circle cx="603" cy="67" r="8"/><text x="603" y="68.6">CORP1</text></g>
<g id="c3-DPM3" class="or"><circle cx="618" cy="83" r="8"/><text x="618" y="84.6">DPM3</text></g>
<g id="c3-MO3b" class="pu"><circle cx="500" cy="82" r="8"/><text x="500" y="83.6">MO3</text></g>
<g id="c3-CEO2" class="pu b4"><circle cx="563" cy="99" r="18"/><text x="563" y="100.8">CEO2</text></g>
<g id="c3-CEO3" class="gr"><circle cx="627" cy="101" r="8"/><text x="627" y="102.6">CEO3</text></g>
<g id="c3-DCSTa" class="or"><circle cx="513" cy="104" r="8"/><text x="513" y="105.6">DCST</text></g>
<g id="c3-DPM8" class="or"><circle cx="606" cy="112" r="8"/><text x="606" y="113.6">DPM8</text></g>
<g id="c3-CEO1" class="mi"><circle cx="628" cy="121" r="8"/><text x="628" y="122.6">CEO1</text></g>
<g id="c3-DCST7" class="or"><circle cx="528" cy="121" r="8"/><text x="528" y="122.6">DCST7</text></g>
<g id="c3-DPM1b" class="or"><circle cx="509" cy="132" r="8"/><text x="509" y="133.6">DPM1</text></g>
<g id="c3-QA" class="pu"><circle cx="531" cy="142" r="8"/><text x="531" y="143.6">QA</text></g>
<g id="c3-DHS" class="or"><circle cx="597" cy="137" r="8"/><text x="597" y="138.6">DHS</text></g>
<g id="c3-DPM2" class="or"><circle cx="626" cy="143" r="8"/><text x="626" y="144.6">DPM2</text></g>
<g id="c3-MO1" class="pu b3"><circle cx="403" cy="171" r="13"/><text x="403" y="172.8">MO1</text></g>
<g id="c3-CHW3" class="pu"><circle cx="345" cy="171" r="8"/><text x="345" y="172.6">CHW3</text></g>
<g id="c3-PN11" class="pu"><circle cx="437" cy="164" r="8"/><text x="437" y="165.6">PN11</text></g>
<g id="c3-PN23" class="pu"><circle cx="462" cy="166" r="8"/><text x="462" y="167.6">PN23</text></g>
<g id="c3-PN16" class="pu b3"><circle cx="489" cy="178" r="13"/><text x="489" y="179.8">PN16</text></g>
<g id="c3-STM" class="pu"><circle cx="428" cy="189" r="8"/><text x="428" y="190.6">STM</text></g>
<g id="c3-PN14" class="pu b2"><circle cx="455" cy="192" r="10"/><text x="455" y="193.6">PN14</text></g>
<g id="c3-MO6" class="pu"><circle cx="376" cy="200" r="8"/><text x="376" y="201.6">MO6</text></g>
<g id="c3-PN22" class="pu"><circle cx="402" cy="203" r="8"/><text x="402" y="204.6">PN22</text></g>
<g id="c3-NUT3" class="pu"><circle cx="434" cy="211" r="8"/><text x="434" y="212.6">NUT3</text></g>
<g id="c3-PN27a" class="pu"><circle cx="476" cy="208" r="8"/><text x="476" y="209.6">PN27</text></g>
<g id="c3-PN2" class="pu"><circle cx="419" cy="229" r="8"/><text x="419" y="230.6">PN2</text></g>
<g id="c3-PN15" class="pu b3"><circle cx="455" cy="235" r="13"/><text x="455" y="236.8">PN15</text></g>
<g id="c3-STM2" class="pu"><circle cx="425" cy="252" r="8"/><text x="425" y="253.6">STM</text></g>
<g id="c3-Nurse2" class="pu"><circle cx="419" cy="274" r="8"/><text x="419" y="275.6">Nurse</text></g>
<g id="c3-OPM4" class="mi"><circle cx="438" cy="272" r="8"/><text x="438" y="273.6">OPM4</text></g>
<g id="c3-PN26" class="pu"><circle cx="459" cy="270" r="8"/><text x="459" y="271.6">PN26</text></g>
<g id="c3-PN20" class="pu"><circle cx="483" cy="267" r="8"/><text x="483" y="268.6">PN20</text></g>
<g id="c3-NM7" class="pu"><circle cx="513" cy="158" r="8"/><text x="513" y="159.6">NM7</text></g>
<g id="c3-DM" class="or"><circle cx="548" cy="153" r="8"/><text x="548" y="154.6">DM</text></g>
<g id="c3-DHS3" class="pu b4"><circle cx="583" cy="172" r="17"/><text x="583" y="173.8">DHS3</text></g>
<g id="c3-MOCS1" class="mi"><circle cx="650" cy="159" r="8"/><text x="650" y="160.6">MOCS1</text></g>
<g id="c3-DPM6" class="or"><circle cx="625" cy="169" r="8"/><text x="625" y="170.6">DPM6</text></g>
<g id="c3-DHS2" class="gr"><circle cx="649" cy="181" r="8"/><text x="649" y="182.6">DHS2</text></g>
<g id="c3-NM5" class="pu"><circle cx="533" cy="181" r="8"/><text x="533" y="182.6">NM5</text></g>
<g id="c3-NM1" class="gr"><circle cx="620" cy="197" r="8"/><text x="620" y="198.6">NM1</text></g>
<g id="c3-MCW1" class="py"><circle cx="643" cy="202" r="8"/><text x="643" y="203.6">MCW1</text></g>
<g id="c3-PN24" class="pu"><circle cx="513" cy="197" r="8"/><text x="513" y="198.6">PN24</text></g>
<g id="c3-DPM11" class="or"><circle cx="558" cy="200" r="8"/><text x="558" y="201.6">DPM11</text></g>
<g id="c3-DPM3b" class="or"><circle cx="578" cy="210" r="8"/><text x="578" y="211.6">DPM3</text></g>
<g id="c3-DPM4" class="or"><circle cx="601" cy="209" r="8"/><text x="601" y="210.6">DPM4</text></g>
<g id="c3-NM3" class="pu"><circle cx="537" cy="208" r="8"/><text x="537" y="209.6">NM3</text></g>
<g id="c3-DPM5" class="or"><circle cx="558" cy="223" r="8"/><text x="558" y="224.6">DPM5</text></g>
<g id="c3-DPM10" class="or"><circle cx="578" cy="232" r="8"/><text x="578" y="233.6">DPM10</text></g>
<g id="c3-NM6" class="mi"><circle cx="602" cy="235" r="8"/><text x="602" y="236.6">NM6</text></g>
<g id="c3-OPM1" class="pu b4"><circle cx="505" cy="232" r="18"/><text x="505" y="233.8">OPM1</text></g>
<g id="c3-NUT1" class="or"><circle cx="543" cy="240" r="8"/><text x="543" y="241.6">NUT1</text></g>
<g id="c3-BOARD3" class="wh"><circle cx="561" cy="259" r="8"/><text x="561" y="260.6">BOARD3</text></g>
<g id="c3-PN27" class="pu"><circle cx="533" cy="263" r="8"/><text x="533" y="264.6">PN27</text></g>
<g id="c3-OPM3" class="mi"><circle cx="512" cy="288" r="8"/><text x="512" y="289.6">OPM3</text></g>
<!-- cluster 4 -->
<g id="c4-CEO4" class="te"><circle cx="249" cy="323" r="8"/><text x="249" y="324.6">CEO4</text></g>
<g id="c4-DPM16" class="or"><circle cx="297" cy="322" r="8"/><text x="297" y="323.6">DPM16</text></g>
<g id="c4-DMS" class="gy"><circle cx="228" cy="331" r="8"/><text x="228" y="332.6">DMS</text></g>
<g id="c4-OMP5" class="ye"><circle cx="199" cy="344" r="8"/><text x="199" y="345.6">OMP5</text></g>
<g id="c4-SW" class="gr"><circle cx="249" cy="345" r="8"/><text x="249" y="346.6">SW</text></g>
<g id="c4-DPM11" class="or"><circle cx="182" cy="357" r="8"/><text x="182" y="358.6">DPM11</text></g>
<g id="c4-DHW1" class="gr"><circle cx="217" cy="364" r="8"/><text x="217" y="365.6">DHW1</text></g>
<g id="c4-DPM3" class="or"><circle cx="233" cy="362" r="8"/><text x="233" y="363.6">DPM3</text></g>
<g id="c4-DPM9" class="or"><circle cx="155" cy="363" r="8"/><text x="155" y="364.6">DPM9</text></g>
<g id="c4-TN21" class="pu"><circle cx="123" cy="375" r="8"/><text x="123" y="376.6">TN21</text></g>
<g id="c4-OMP11" class="py"><circle cx="88" cy="376" r="8"/><text x="88" y="377.6">OMP11</text></g>
<g id="c4-MO13" class="mi"><circle cx="68" cy="382" r="8"/><text x="68" y="383.6">MO13</text></g>
<g id="c4-DMP9" class="py"><circle cx="51" cy="391" r="8"/><text x="51" y="392.6">DMP9</text></g>
<g id="c4-CEO3" class="gr b4"><circle cx="272" cy="382" r="19"/><text x="272" y="383.8">CEO3</text></g>
<g id="c4-Nurse" class="gr b3"><circle cx="217" cy="394" r="13"/><text x="217" y="395.8">Nurse</text></g>
<g id="c4-DMP1" class="ye"><circle cx="187" cy="398" r="8"/><text x="187" y="399.6">DMP1</text></g>
<g id="c4-DHS1" class="or"><circle cx="165" cy="401" r="8"/><text x="165" y="402.6">DHS1</text></g>
<g id="c4-DPM7" class="or"><circle cx="129" cy="403" r="8"/><text x="129" y="404.6">DPM7</text></g>
<g id="c4-MOS3" class="mi"><circle cx="41" cy="404" r="8"/><text x="41" y="405.6">MOS3</text></g>
<g id="c4-MO19" class="gr"><circle cx="241" cy="407" r="8"/><text x="241" y="408.6">MO19</text></g>
<g id="c4-NM4" class="mi"><circle cx="41" cy="421" r="8"/><text x="41" y="422.6">NM4</text></g>
<g id="c4-OPM7" class="gr"><circle cx="96" cy="423" r="9"/><text x="96" y="424.6">OPM7</text></g>
<g id="c4-DPM10" class="or"><circle cx="156" cy="420" r="8"/><text x="156" y="421.6">DPM10</text></g>
<g id="c4-DPM6" class="or"><circle cx="179" cy="418" r="8"/><text x="179" y="419.6">DPM6</text></g>
<g id="c4-PN12" class="gr"><circle cx="200" cy="423" r="8"/><text x="200" y="424.6">PN12</text></g>
<g id="c4-MO15" class="gr"><circle cx="256" cy="419" r="8"/><text x="256" y="420.6">MO15</text></g>
<g id="c4-MO12" class="gr"><circle cx="285" cy="418" r="8"/><text x="285" y="419.6">MO12</text></g>
<g id="c4-CEO2" class="pu"><circle cx="133" cy="430" r="8"/><text x="133" y="431.6">CEO2</text></g>
<g id="c4-OMP3" class="ye"><circle cx="226" cy="433" r="12"/><text x="226" y="434.6">OMP3</text></g>
<g id="c4-DPM8y" class="ye"><circle cx="269" cy="432" r="8"/><text x="269" y="433.6">DPM8</text></g>
<g id="c4-PHCoord" class="gy"><circle cx="252" cy="439" r="8"/><text x="252" y="440.6">PH Coord</text></g>
<g id="c4-CORP1" class="gr"><circle cx="288" cy="437" r="8"/><text x="288" y="438.6">CORP1</text></g>
<g id="c4-DPM" class="or"><circle cx="168" cy="437" r="8"/><text x="168" y="438.6">DPM</text></g>
<g id="c4-NM2" class="pu"><circle cx="48" cy="439" r="8"/><text x="48" y="440.6">NM2</text></g>
<g id="c4-MOCS8" class="mi"><circle cx="66" cy="445" r="8"/><text x="66" y="446.6">MOCS8</text></g>
<g id="c4-DPM8" class="or"><circle cx="148" cy="446" r="8"/><text x="148" y="447.6">DPM8</text></g>
<g id="c4-OMP4" class="ye"><circle cx="194" cy="452" r="12"/><text x="194" y="453.6">OMP4</text></g>
<g id="c4-NUT4" class="gr"><circle cx="221" cy="458" r="8"/><text x="221" y="459.6">NUT4</text></g>
<g id="c4-DCWH" class="gy"><circle cx="240" cy="458" r="8"/><text x="240" y="459.6">DCWH</text></g>
<g id="c4-OPM5" class="gr b2"><circle cx="271" cy="459" r="12"/><text x="271" y="460.6">OPM5</text></g>
<g id="c4-MOW" class="py"><circle cx="79" cy="458" r="8"/><text x="79" y="459.6">MOW</text></g>
<g id="c4-DCST7" class="or"><circle cx="163" cy="462" r="8"/><text x="163" y="463.6">DCST7</text></g>
<g id="c4-POMH" class="mi"><circle cx="119" cy="471" r="8"/><text x="119" y="472.6">POMH</text></g>
<g id="c4-DHS2" class="gr"><circle cx="209" cy="475" r="8"/><text x="209" y="476.6">DHS2</text></g>
<g id="c4-PN8" class="gr"><circle cx="229" cy="474" r="8"/><text x="229" y="475.6">PN8</text></g>
<g id="c4-PN5" class="gr"><circle cx="249" cy="477" r="8"/><text x="249" y="478.6">PN5</text></g>
<g id="c4-DM" class="or"><circle cx="177" cy="479" r="8"/><text x="177" y="480.6">DM</text></g>
<g id="c4-PN2" class="gr"><circle cx="279" cy="485" r="8"/><text x="279" y="486.6">PN2</text></g>
<g id="c4-NUM4" class="gr"><circle cx="142" cy="485" r="9"/><text x="142" y="486.6">NUM4</text></g>
<g id="c4-DPM1" class="or"><circle cx="193" cy="489" r="8"/><text x="193" y="490.6">DPM1</text></g>
<g id="c4-DPM5" class="gr"><circle cx="218" cy="493" r="8"/><text x="218" y="494.6">DPM5</text></g>
<g id="c4-RH1" class="mg"><circle cx="238" cy="493" r="8"/><text x="238" y="494.6">RH1</text></g>
<g id="c4-MO1" class="pu"><circle cx="109" cy="501" r="8"/><text x="109" y="502.6">MO1</text></g>
<g id="c4-MO14" class="gr b2"><circle cx="260" cy="506" r="11"/><text x="260" y="507.6">MO14</text></g>
<g id="c4-OMP1" class="ye"><circle cx="288" cy="504" r="8"/><text x="288" y="505.6">OMP1</text></g>
<g id="c4-ADPH" class="ye"><circle cx="168" cy="506" r="8"/><text x="168" y="507.6">ADPH</text></g>
<g id="c4-PN1" class="ye"><circle cx="230" cy="512" r="8"/><text x="230" y="513.6">PN1</text></g>
<g id="c4-NM1" class="gr b3"><circle cx="201" cy="522" r="13"/><text x="201" y="523.8">NM1</text></g>
<g id="c4-OMP1g" class="gr"><circle cx="123" cy="523" r="8"/><text x="123" y="524.6">OMP1</text></g>
<g id="c4-HA2" class="ye"><circle cx="244" cy="528" r="8"/><text x="244" y="529.6">HA2</text></g>
<g id="c4-DCST" class="or"><circle cx="285" cy="532" r="8"/><text x="285" y="533.6">DCST</text></g>
<g id="c4-PMD3" class="gr"><circle cx="142" cy="537" r="8"/><text x="142" y="538.6">PMD3</text></g>
<g id="c4-MOMM4" class="te"><circle cx="229" cy="544" r="8"/><text x="229" y="545.6">MOMM4</text></g>
<g id="c4-OPM8" class="te"><circle cx="260" cy="547" r="8"/><text x="260" y="548.6">OPM8</text></g>
<g id="c4-NM6" class="gr"><circle cx="166" cy="554" r="8"/><text x="166" y="555.6">NM6</text></g>
<g id="c4-NM7" class="gr"><circle cx="197" cy="563" r="8"/><text x="197" y="564.6">NM7</text></g>
<g id="c4-MO3" class="pu"><circle cx="276" cy="562" r="8"/><text x="276" y="563.6">MO3</text></g>
<g id="c4-MO8" class="pu"><circle cx="293" cy="559" r="8"/><text x="293" y="560.6">MO8</text></g>
<g id="c4-PN13" class="gr"><circle cx="318" cy="357" r="8"/><text x="318" y="358.6">PN13</text></g>
<g id="c4-WP1" class="ye"><circle cx="313" cy="378" r="8"/><text x="313" y="379.6">WP1</text></g>
<g id="c4-PN7" class="ye"><circle cx="333" cy="384" r="8"/><text x="333" y="385.6">PN7</text></g>
<g id="c4-BOARD2" class="wh"><circle cx="355" cy="391" r="8"/><text x="355" y="392.6">BOARD2</text></g>
<g id="c4-CMP2" class="ye"><circle cx="318" cy="397" r="8"/><text x="318" y="398.6">CMP2</text></g>
<g id="c4-CHW1" class="gr"><circle cx="337" cy="403" r="8"/><text x="337" y="404.6">CHW1</text></g>
<g id="c4-PN3" class="ye"><circle cx="302" cy="407" r="8"/><text x="302" y="408.6">PN3</text></g>
<g id="c4-PHCoord2" class="gy"><circle cx="320" cy="415" r="8"/><text x="320" y="416.6">PH Coord</text></g>
<g id="c4-BOARD1" class="wh"><circle cx="359" cy="409" r="8"/><text x="359" y="410.6">BOARD1</text></g>
<g id="c4-NUT1" class="or"><circle cx="303" cy="426" r="8"/><text x="303" y="427.6">NUT1</text></g>
<g id="c4-PN10" class="ye"><circle cx="337" cy="424" r="8"/><text x="337" y="425.6">PN10</text></g>
<g id="c4-NUT3" class="gr"><circle cx="321" cy="435" r="8"/><text x="321" y="436.6">NUT3</text></g>
<g id="c4-PN9" class="ye"><circle cx="357" cy="433" r="8"/><text x="357" y="434.6">PN9</text></g>
<g id="c4-PN11" class="gr"><circle cx="303" cy="446" r="8"/><text x="303" y="447.6">PN11</text></g>
<g id="c4-QA" class="te"><circle cx="337" cy="444" r="8"/><text x="337" y="445.6">QA</text></g>
<g id="c4-PN4" class="te"><circle cx="349" cy="462" r="8"/><text x="349" y="463.6">PN4</text></g>
<g id="c4-MOMM2" class="gr b4"><circle cx="316" cy="477" r="15"/><text x="316" y="478.8">MOMM2</text></g>
<g id="c4-MOMM5" class="pu"><circle cx="369" cy="479" r="8"/><text x="369" y="480.6">MOMM5</text></g>
<g id="c4-MO7" class="pu"><circle cx="367" cy="497" r="8"/><text x="367" y="498.6">MO7</text></g>
<g id="c4-DPM2" class="or"><circle cx="305" cy="514" r="8"/><text x="305" y="515.6">DPM2</text></g>
<g id="c4-PN6" class="gr"><circle cx="325" cy="517" r="8"/><text x="325" y="518.6">PN6</text></g>
<g id="c4-CLO1" class="mi"><circle cx="363" cy="517" r="8"/><text x="363" y="518.6">CLO1</text></g>
<g id="c4-DCST1" class="or"><circle cx="308" cy="535" r="8"/><text x="308" y="536.6">DCST1</text></g>
</g>

<g id="legend" class="legend">
<text x="454" y="338" font-weight="bold" font-size="9.7" text-decoration="underline">Legend 1 – By Location</text>
<g id="leg-district-office"><rect x="446" y="353" width="16" height="17" fill="#f26b2b"/><text x="467" y="365">District Office</text></g>
<g id="leg-sd1c2"><rect x="446" y="377" width="16" height="18" fill="#a9dcc4"/><text x="467" y="389">Sub-district 1-C2</text></g>
<g id="leg-sd1c3"><rect x="446" y="401" width="16" height="18" fill="#8b55a8"/><text x="466" y="413.5">Sub-district 1-C3</text></g>
<g id="leg-sd2c4"><rect x="446" y="426" width="16" height="17" fill="#15964c"/><text x="465" y="438">Sub-district 2-C4</text></g>
<g id="leg-phc"><rect x="446" y="448" width="16" height="17" fill="#fbf4a0"/><text x="465" y="460.5">PHC Sub-district</text></g>
<g id="leg-phc2"><rect x="446" y="471" width="16" height="17" fill="#f7ea12"/><text x="465" y="483.5">PHC Sub-district 2</text></g>
<g id="leg-rh"><rect x="446" y="495" width="16" height="17" fill="#e33f99"/><text x="465" y="507">Regional hospital</text></g>
<g id="leg-sdo"><rect x="446" y="519" width="16" height="18" fill="#c6c7ca"/><text x="466" y="530.5">Sub-district Office</text></g>
<g id="leg-community"><rect x="446" y="541" width="16" height="18" fill="#ffffff"/><text x="465" y="552.5">Community</text></g>
</g>
</svg>
